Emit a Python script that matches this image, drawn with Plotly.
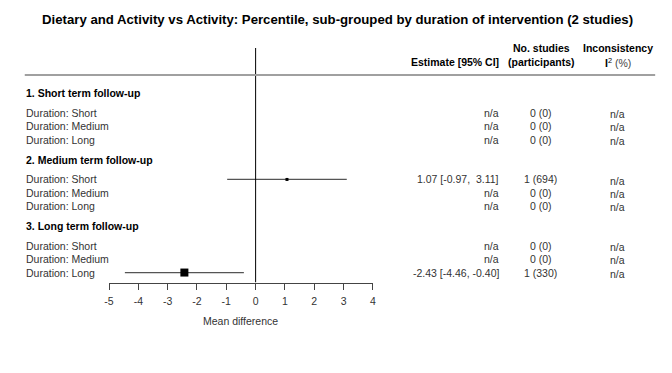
import plotly.graph_objects as go

# ---------------- data ----------------
title_text = "Dietary and Activity vs Activity: Percentile, sub-grouped by duration of intervention (2 studies)"
groups = ["1. Short term follow-up", "2. Medium term follow-up", "3. Long term follow-up"]
subgroups = ["Duration: Short", "Duration: Medium", "Duration: Long"]
estimate = [None, None, None, 1.07, None, None, None, None, -2.43]
ci_low = [None, None, None, -0.97, None, None, None, None, -4.46]
ci_high = [None, None, None, 3.11, None, None, None, None, -0.40]
n_studies = [0, 0, 0, 1, 0, 0, 0, 0, 1]
n_participants = [0, 0, 0, 694, 0, 0, 0, 0, 330]
inconsistency = ["n/a"] * 9
x_ticks = [-5, -4, -3, -2, -1, 0, 1, 2, 3, 4]
x_title = "Mean difference"

# ---------------- layout helpers ----------------
W, H = 672, 373
FONT = "Arial, 'Liberation Sans', sans-serif"
TXT = "#333333"


def px_x(p):
    return p / W


def row_u(g, r):
    return 5 * g + 1.5 + r


fig = go.Figure()

# CI lines + point estimates
marker_size = {3: 3, 8: 8}
for i, e in enumerate(estimate):
    if e is None:
        continue
    g, r = divmod(i, 3)
    fig.add_trace(go.Scatter(
        x=[e], y=[row_u(g, r)], mode="markers",
        marker=dict(symbol="square", size=marker_size.get(i, 6), color="black"),
        error_x=dict(type="data", symmetric=False,
                     array=[ci_high[i] - e], arrayminus=[e - ci_low[i]],
                     width=0, thickness=1.2, color="#555555"),
        showlegend=False, hoverinfo="skip", cliponaxis=False,
    ))

LEFT_X = px_x(19)
EST_X = px_x(502)

ann = []
# title
ann.append(dict(text="<b>" + title_text + "</b>", x=0.5, xref="paper", y=1 - 19 / H, yref="paper",
                showarrow=False, font=dict(family=FONT, size=13.2, color="black"),
                xanchor="center", yanchor="middle"))
# column headers
hdr_font = dict(family=FONT, size=10.5, color="black")
ann.append(dict(text="<b>Estimate [95% CI]</b>", x=EST_X, xref="paper", y=1 - 62 / H, yref="paper",
                xanchor="right", yanchor="middle", showarrow=False, font=hdr_font))
ann.append(dict(text="<b>No. studies</b>", x=px_x(543), xref="paper", y=1 - 48 / H, yref="paper",
                xanchor="center", yanchor="middle", showarrow=False, font=hdr_font))
ann.append(dict(text="<b>(participants)</b>", x=px_x(543), xref="paper", y=1 - 62 / H, yref="paper",
                xanchor="center", yanchor="middle", showarrow=False, font=hdr_font))
ann.append(dict(text="<b>Inconsistency</b>", x=px_x(620), xref="paper", y=1 - 48 / H, yref="paper",
                xanchor="center", yanchor="middle", showarrow=False, font=hdr_font))
ann.append(dict(text="<b>I</b><sup>2</sup> <span style='color:#444'>(%)</span>", x=px_x(620), xref="paper",
                y=1 - 62 / H, yref="paper",
                xanchor="center", yanchor="middle", showarrow=False, font=dict(family=FONT, size=10.5, color="black")))

lbl_font = dict(family=FONT, size=10.5, color=TXT)
for g, gname in enumerate(groups):
    ann.append(dict(text="<b>" + gname + "</b>", x=LEFT_X, xref="paper", y=5 * g, yref="y",
                    xanchor="left", yanchor="middle", showarrow=False,
                    font=dict(family=FONT, size=10.5, color="black")))
    for r, sname in enumerate(subgroups):
        i = g * 3 + r
        y = row_u(g, r)
        ann.append(dict(text=sname, x=LEFT_X, xref="paper", y=y, yref="y",
                        xanchor="left", yanchor="middle", showarrow=False, font=lbl_font))
        if estimate[i] is None:
            est_txt = "n/a"
        else:
            hi = f"{ci_high[i]:.2f}"
            if not hi.startswith("-"):
                hi = "\u00a0" + hi
            est_txt = f"{estimate[i]:.2f} [{ci_low[i]:.2f}, {hi}]"
        ann.append(dict(text=est_txt, x=EST_X, xref="paper", y=y, yref="y",
                        xanchor="right", yanchor="middle", showarrow=False, font=lbl_font))
        ann.append(dict(text=f"{n_studies[i]} ({n_participants[i]})", x=px_x(542), xref="paper", y=y, yref="y",
                        xanchor="center", yanchor="middle", showarrow=False, font=lbl_font))
        ann.append(dict(text=inconsistency[i], x=px_x(620), xref="paper", y=y + 0.08, yref="y",
                        xanchor="center", yanchor="middle", showarrow=False, font=lbl_font))

# axis title
ann.append(dict(text=x_title, x=(105.3 + 372.3) / 2 / W, xref="paper", y=1 - 321 / H, yref="paper",
                xanchor="center", yanchor="middle", showarrow=False, font=dict(family=FONT, size=10.5, color=TXT)))

u_top = -93 / 13.3
u_bot = (282.5 - 93) / 13.3

shapes = [
    # zero line
    dict(type="line", xref="x", yref="y", x0=0, x1=0, y0=(48 - 93) / 13.3, y1=u_bot,
         line=dict(color="black", width=1)),
    # header separator
    dict(type="line", xref="paper", yref="paper", x0=px_x(20), x1=px_x(658), y0=1 - 75 / H, y1=1 - 75 / H,
         line=dict(color="#a0a0a0", width=2)),
]

fig.update_layout(
    width=W, height=H, margin=dict(l=0, r=0, t=0, b=0),
    paper_bgcolor="white", plot_bgcolor="rgba(0,0,0,0)",
    showlegend=False, annotations=ann, shapes=shapes,
    xaxis=dict(domain=[105.3 / W, 372.3 / W], range=[-5, 4], tickvals=x_ticks,
               ticktext=[str(t) for t in x_ticks], showgrid=False, zeroline=False,
               showline=True, linecolor="#444444", linewidth=1, ticks="outside", ticklen=6,
               tickcolor="#444444", tickfont=dict(family=FONT, size=10.5, color=TXT),
               ticklabelstandoff=3, fixedrange=True),
    yaxis=dict(domain=[1 - 282.5 / H, 1], range=[u_bot, u_top], visible=False, fixedrange=True),
)

fig.write_html(
    "out.html",
    config={"displayModeBar": False},
    post_script="document.body.style.margin='0px';document.body.style.overflow='hidden';",
)
